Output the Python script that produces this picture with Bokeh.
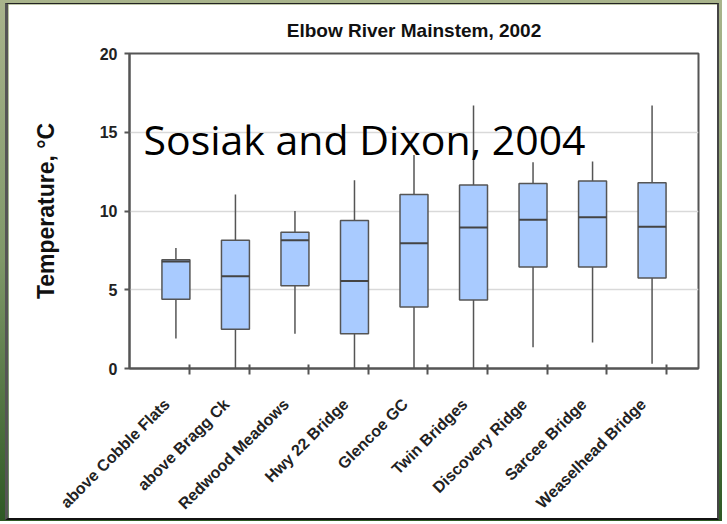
from math import pi

import numpy as np
from bokeh.plotting import figure
from bokeh.models import Range1d, LinearAxis, FixedTicker, Label, ColumnDataSource
from bokeh.layouts import column
from bokeh.embed import file_html
from bokeh.resources import INLINE

# ---- data ----
sites = ["above Cobble Flats", "above Bragg Ck", "Redwood Meadows", "Hwy 22 Bridge",
         "Glencoe GC", "Twin Bridges", "Discovery Ridge", "Sarcee Bridge", "Weaselhead Bridge"]
whisker_low = [1.9, 0.0, 2.2, 0.0, 0.0, 0.0, 1.35, 1.65, 0.3]
q1 = [4.4, 2.5, 5.25, 2.2, 3.9, 4.35, 6.45, 6.45, 5.75]
median = [6.8, 5.85, 8.15, 5.55, 7.95, 8.95, 9.45, 9.6, 9.0]
q3 = [6.9, 8.15, 8.65, 9.4, 11.05, 11.65, 11.75, 11.9, 11.8]
whisker_high = [7.65, 11.05, 10.0, 11.95, 13.55, 16.7, 13.1, 13.15, 16.7]
y_ticks = [0, 5, 10, 15, 20]
title_text = "Elbow River Mainstem, 2002"
y_label = "Temperature, \u00b0C"
note_text = "Sosiak and Dixon, 2004"

# ---- styling constants ----
AXIS_COLOR = "#555555"
BOX_FILL = "#a9cbff"
FONT = "Liberation Sans"
PAD = 0.28           # padding on each side (in category widths)
TICK_SHIFT = 0.235   # x tick marks sit to the right of each box
LABEL_SHIFT = -0.15  # rotated labels end slightly left of each box
BOX_W = 0.47

n = len(sites)
centers = np.arange(n) + 0.5

p = figure(x_range=Range1d(-PAD, n + PAD), y_range=Range1d(0, 20), width=714, height=517,
           output_backend="svg", toolbar_location=None, x_axis_location=None,
           min_border_left=121, min_border_right=24, min_border_top=49, min_border_bottom=152,
           background_fill_color="white", border_fill_color="white",
           outline_line_color=AXIS_COLOR, outline_line_width=2)

for g in p.grid:
    if g.dimension == 0:
        g.visible = False

p.title.text = title_text
p.title.align = "center"
p.title.text_font = FONT
p.title.text_font_size = "19px"
p.title.text_font_style = "bold"
p.title.text_color = "#111111"
p.title.standoff = 26

# y axis
ya = p.yaxis[0]
ya.ticker = FixedTicker(ticks=y_ticks)
ya.axis_label = y_label
ya.axis_label_text_font = FONT
ya.axis_label_text_font_size = "23px"
ya.axis_label_text_font_style = "bold"
ya.axis_label_text_color = "#111111"
ya.axis_label_standoff = 38
ya.major_label_text_font = FONT
ya.major_label_text_font_size = "16px"
ya.major_label_text_font_style = "bold"
ya.major_label_text_color = "#222222"
ya.major_label_standoff = 7
ya.major_tick_out = 5
ya.major_tick_in = 0
ya.major_tick_line_color = AXIS_COLOR
ya.major_tick_line_width = 2
ya.minor_tick_line_color = None
ya.axis_line_color = AXIS_COLOR
ya.axis_line_width = 2

p.ygrid.grid_line_color = "#d9d9d9"
p.ygrid.grid_line_width = 1.5

# x axis: labels at (major) ticks, visible tick marks drawn as minor ticks
label_pos = [round(float(c + LABEL_SHIFT), 3) for c in centers]
mark_pos = [round(float(c + TICK_SHIFT), 3) for c in centers]
xa = LinearAxis(ticker=FixedTicker(ticks=label_pos, minor_ticks=mark_pos),
                major_label_overrides={pos: s for pos, s in zip(label_pos, sites)},
                axis_line_color=AXIS_COLOR, axis_line_width=2,
                major_tick_line_color=None, major_tick_in=0, major_tick_out=0,
                minor_tick_line_color=AXIS_COLOR, minor_tick_line_width=2,
                minor_tick_in=4, minor_tick_out=6,
                major_label_orientation=pi / 4,
                major_label_standoff=27,
                major_label_text_font=FONT,
                major_label_text_font_size="16px",
                major_label_text_font_style="bold",
                major_label_text_color="#222222")
p.add_layout(xa, "below")

src = ColumnDataSource(dict(x=centers, lo=whisker_low, q1=q1, med=median, q3=q3, hi=whisker_high,
                            x0=centers - BOX_W / 2, x1=centers + BOX_W / 2))

p.segment(x0="x", y0="lo", x1="x", y1="hi", source=src,
          line_color=AXIS_COLOR, line_width=1.5)
p.vbar(x="x", width=BOX_W, bottom="q1", top="q3", source=src,
       fill_color=BOX_FILL, line_color=AXIS_COLOR, line_width=1.5)
p.segment(x0="x0", y0="med", x1="x1", y1="med", source=src,
          line_color="#444444", line_width=2)

p.add_layout(Label(x=-0.045, y=14.6, text=note_text, text_font="Open Sans",
                   text_font_size="41px", text_baseline="alphabetic", text_align="left",
                   text_color="black"))

p.styles = {"border-left": "3px solid #555555", "border-top": "1px solid #222222",
            "border-right": "2px solid #444444", "border-bottom": "2px solid #111111"}

layout = column(p, styles={
    "background": "linear-gradient(180deg, #a9b48c 0%, #7f9868 50%, #2e5824 100%)",
    "padding": "3px 3px 1px 5px"})

open("out.html", "w").write(file_html(layout, INLINE))
